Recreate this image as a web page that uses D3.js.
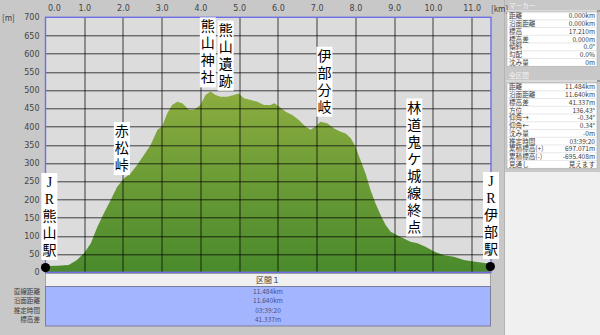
<!DOCTYPE html>
<html>
<head>
<meta charset="utf-8">
<script src="https://cdnjs.cloudflare.com/ajax/libs/d3/7.8.5/d3.min.js"></script>
<style>
body{margin:0;background:#c8c8c8;}
svg{display:block;}
.small{font-family:"Noto Sans CJK JP","DejaVu Sans",sans-serif;font-size:8px;fill:#3c3c3c;}
.tiny{font-family:"Noto Sans CJK JP","DejaVu Sans",sans-serif;font-size:6.6px;fill:#3c3c3c;}
.tick text{font-family:"DejaVu Sans",sans-serif;font-size:8px;fill:#444;}
.place{font-family:"Liberation Serif","Noto Sans CJK JP",serif;font-size:14px;fill:#000;}
</style>
</head>
<body>
<svg id="chart" width="600" height="335"></svg>
<script>
// profile: distance (km) / elevation (m)
var distKm = [0, 0.3, 0.6, 0.81, 1.0, 1.17, 1.34, 1.51, 1.68, 1.85, 2.03, 2.2, 2.37, 2.54, 2.71, 2.89, 3.01, 3.14, 3.27, 3.4,
  3.53, 3.7, 3.83, 4.0, 4.13, 4.26, 4.39, 4.52, 4.69, 4.86, 4.99, 5.12, 5.3, 5.47, 5.64, 5.81, 5.9, 6.03, 6.2, 6.37,
  6.54, 6.71, 6.84, 6.97, 7.1, 7.27, 7.45, 7.62, 7.75, 7.88, 8.0, 8.13, 8.26, 8.39, 8.52, 8.65, 8.78, 8.91, 9.08, 9.25,
  9.42, 9.6, 9.81, 10.03, 10.28, 10.54, 10.8, 11.1, 11.37, 11.484];
var elevM = [17, 18, 20, 34, 53, 80, 125, 163, 198, 235, 258, 272, 295, 322, 349, 391, 400, 436, 459, 468,
  464, 446, 446, 459, 487, 496, 487, 482, 482, 487, 491, 478, 473, 468, 459, 459, 464, 455, 441, 432,
  418, 400, 391, 400, 413, 409, 395, 386, 381, 368, 345, 308, 272, 226, 189, 157, 130, 111, 102, 93,
  84, 80, 70, 57, 47, 43, 34, 29, 25, 20];

var xTicks = [0, 1, 2, 3, 4, 5, 6, 7, 8, 9, 10, 11];
var yTicks = [0, 50, 100, 150, 200, 250, 300, 350, 400, 450, 500, 550, 600, 650, 700];

var placeNames = ["JR熊山駅", "赤松峠", "熊山神社", "熊山遺跡", "伊部分岐", "林道鬼ケ城線終点", "JR伊部駅"];
var placeKm = [0.1, 1.97, 4.19, 4.65, 7.2, 9.52, 11.5];

var markerLabels = ["距離", "沿面距離", "標高", "標高差", "傾斜", "勾配", "沈み量"];
var markerValues = ["0.000km", "0.000km", "17.210m", "0.000m", "0.0°", "0.0%", "0m"];
var totalLabels = ["距離", "沿面距離", "標高差", "方位", "仰角→", "仰角←", "沈み量", "推定時間", "累積標高(+)", "累積標高(-)", "見通し"];
var totalValues = ["11.484km", "11.640km", "41.337m", "136.43°", "-0.34°", "0.34°", "-0m", "03:39:20", "697.071m", "-695.408m", "見えます"];

var sectionName = "区間１";
var sectionLabels = ["直線距離", "沿面距離", "推定時間", "標高差"];
var sectionValues = ["11.484km", "11.640km", "03:39:20", "41.337m"];

var svg = d3.select("#chart");
var margin = {top: 17.3, left: 45.5};
var width = 445.5;
var height = 255;

var x = d3.scaleLinear().domain([0, 11.5]).range([0, width]);
var y = d3.scaleLinear().domain([0, 700]).range([height, 0]);

var data = distKm.map(function(k, i) { return {km: k, elev: elevM[i]}; });

// right panel background
svg.append("rect").attr("x", 505).attr("y", 0).attr("width", 95).attr("height", 335).attr("fill", "#c8c8c8");
svg.append("rect").attr("x", 505).attr("y", 172).attr("width", 95).attr("height", 163).attr("fill", "#f0f0f0");
svg.append("line").attr("x1", 504.5).attr("x2", 504.5).attr("y1", 0).attr("y2", 335).attr("stroke", "#b4b4b4");

var defs = svg.append("defs");
var grad = defs.append("linearGradient").attr("id", "green")
    .attr("gradientUnits", "userSpaceOnUse")
    .attr("x1", 0).attr("x2", 0).attr("y1", y(500)).attr("y2", y(0));
grad.append("stop").attr("offset", "0%").attr("stop-color", "#8cad40");
grad.append("stop").attr("offset", "100%").attr("stop-color", "#4a8a2c");

var g = svg.append("g")
    .attr("transform", "translate(" + margin.left + "," + margin.top + ")");

g.append("rect").attr("width", width).attr("height", height).attr("fill", "#dcdcdc");

g.append("path")
    .datum(data)
    .attr("fill", "url(#green)")
    .attr("d", d3.area()
      .x(function(d) { return x(d.km); })
      .y0(height)
      .y1(function(d) { return y(d.elev); }));

// grid
g.selectAll(".vgrid")
    .data(xTicks.slice(1))
  .enter().append("line")
    .attr("class", "vgrid")
    .attr("x1", function(d) { return Math.round(x(d)) + 0.5; })
    .attr("x2", function(d) { return Math.round(x(d)) + 0.5; })
    .attr("y1", 0).attr("y2", height)
    .attr("stroke", "#000").attr("stroke-opacity", 0.72);

g.selectAll(".hgrid")
    .data(yTicks.slice(1, -1))
  .enter().append("line")
    .attr("class", "hgrid")
    .attr("x1", 0).attr("x2", width)
    .attr("y1", function(d) { return Math.round(y(d)) + 0.5; })
    .attr("y2", function(d) { return Math.round(y(d)) + 0.5; })
    .attr("stroke", "#000").attr("stroke-opacity", 0.72);

g.append("rect").attr("width", width).attr("height", height)
    .attr("fill", "none").attr("stroke", "#6e6ee6").attr("stroke-width", 1.4);

// axes
var xAxis = g.append("g")
    .call(d3.axisTop(x).tickValues(xTicks).tickSize(0).tickPadding(6).tickFormat(d3.format(".1f")));
xAxis.select(".domain").remove();
xAxis.selectAll(".tick text").filter(function(d) { return d === 0; })
    .attr("text-anchor", "start").attr("dx", 2);

var yAxis = g.append("g")
    .call(d3.axisLeft(y).tickValues(yTicks).tickSize(0).tickPadding(6));
yAxis.select(".domain").remove();

svg.append("text").attr("class", "small").attr("x", 2).attr("y", 21).text("[m]");
svg.append("text").attr("class", "small").attr("x", 491).attr("y", 12).text("[km]");

// end dots
g.selectAll(".dot")
    .data([data[0], data[data.length - 1]])
  .enter().append("circle")
    .attr("cx", function(d) { return x(d.km); })
    .attr("cy", function(d) { return y(d.elev) + 1.5; })
    .attr("r", 4.6)
    .attr("fill", "#000");

// place labels (vertical)
var bisect = d3.bisector(function(d) { return d.km; }).left;
function elevAt(k) {
  var i = Math.min(Math.max(bisect(data, k), 1), data.length - 1);
  var a = data[i - 1], b = data[i];
  var t = Math.max(0, Math.min(1, (k - a.km) / (b.km - a.km)));
  return a.elev + t * (b.elev - a.elev);
}
var pitch = 17;
placeNames.forEach(function(name, i) {
  var chars = Array.from(name);
  var cx = x(placeKm[i]);
  var bottom = y(elevAt(placeKm[i])) - 6;
  var top = bottom - chars.length * pitch - 2;
  var pg = g.append("g");
  pg.append("rect")
      .attr("x", cx - 8).attr("y", top)
      .attr("width", 16).attr("height", bottom - top)
      .attr("fill", "#fff");
  pg.selectAll("text")
      .data(chars)
    .enter().append("text")
      .attr("class", "place")
      .attr("x", cx)
      .attr("y", function(c, j) { return top + 1 + (j + 1) * pitch - 4; })
      .attr("text-anchor", "middle")
      .text(function(c) { return c; });
});

// section table under the chart
var sec = svg.append("g");
sec.append("rect").attr("x", 45.5).attr("y", 273.5).attr("width", 445).attr("height", 13)
    .attr("fill", "#f0f0f0").attr("stroke", "#a0a0a0");
sec.append("text").attr("class", "small").attr("x", 268).attr("y", 283)
    .attr("text-anchor", "middle").text(sectionName);
sec.append("rect").attr("x", 45.5).attr("y", 286.5).attr("width", 445).attr("height", 39.5)
    .attr("fill", "#a4b5ff").attr("stroke", "#7c7c9c");
sec.selectAll(".slabel")
    .data(sectionLabels)
  .enter().append("text")
    .attr("class", "tiny")
    .attr("x", 40).attr("text-anchor", "end")
    .attr("y", function(d, i) { return 287 + (i + 0.5) * 9.3 + 2.5; })
    .text(function(d) { return d; });
sec.selectAll(".sval")
    .data(sectionValues)
  .enter().append("text")
    .attr("class", "tiny")
    .attr("x", 268).attr("text-anchor", "middle")
    .attr("y", function(d, i) { return 287 + (i + 0.5) * 9.3 + 2.5; })
    .style("fill", "#4a5080")
    .text(function(d) { return d; });

// info panel on the right
function infoTable(title, titleY, labels, values, top) {
  var p = svg.append("g");
  p.append("text").attr("class", "tiny").attr("x", 509).attr("y", titleY)
      .style("fill", "#f4f4f4").text(title);
  p.append("line").attr("x1", 506).attr("x2", 597).attr("y1", titleY + 3).attr("y2", titleY + 3)
      .attr("stroke", "#ececec");
  p.append("line").attr("x1", 597).attr("x2", 600).attr("y1", titleY + 3).attr("y2", titleY + 3)
      .attr("stroke", "#707070");
  var rh = 7.75;
  p.append("rect").attr("x", 507).attr("y", top).attr("width", 90).attr("height", labels.length * rh)
      .attr("fill", "#fff").attr("stroke", "#b0b0b0").attr("stroke-width", 0.6);
  p.selectAll(".rowline")
      .data(labels.slice(1))
    .enter().append("line")
      .attr("x1", 507).attr("x2", 597)
      .attr("y1", function(d, i) { return top + (i + 1) * rh; })
      .attr("y2", function(d, i) { return top + (i + 1) * rh; })
      .attr("stroke", "#d8d8d8").attr("stroke-width", 0.6);
  p.selectAll(".lab")
      .data(labels)
    .enter().append("text")
      .attr("class", "tiny")
      .attr("x", 509)
      .attr("y", function(d, i) { return top + (i + 0.5) * rh + 2.4; })
      .text(function(d) { return d; });
  p.selectAll(".val")
      .data(values)
    .enter().append("text")
      .attr("class", "tiny")
      .attr("x", 595).attr("text-anchor", "end")
      .attr("y", function(d, i) { return top + (i + 0.5) * rh + 2.4; })
      .text(function(d) { return d; });
}
infoTable("マーカー", 8, markerLabels, markerValues, 12);
infoTable("全区間", 78, totalLabels, totalValues, 83);
</script>
</body>
</html>
